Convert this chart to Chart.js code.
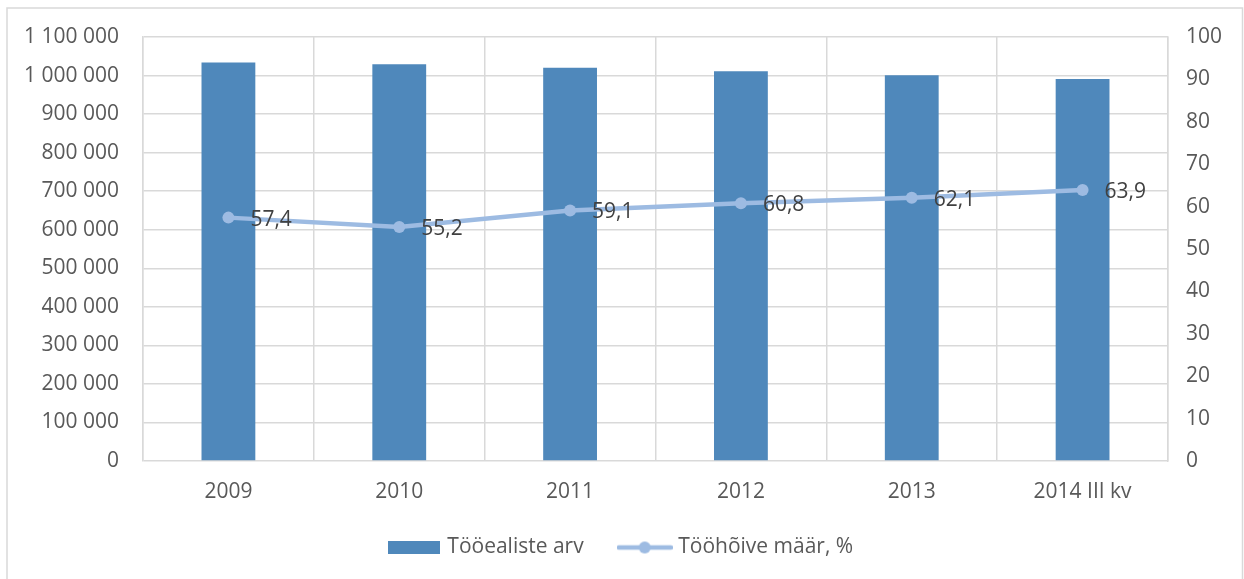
<!DOCTYPE html>
<html>
<head>
<meta charset="utf-8">
<script src="https://cdn.jsdelivr.net/npm/chart.js@4/dist/chart.umd.min.js"></script>
<style>
html,body{margin:0;padding:0;background:#fff;}
#wrap{position:relative;width:1244px;height:579px;}
canvas{display:block;}
</style>
</head>
<body>
<div id="wrap"><canvas id="c" width="1244" height="579"></canvas></div>
<script>
const categories = ["2009", "2010", "2011", "2012", "2013", "2014 III kv"];
const workingAge = [1034000, 1029000, 1020000, 1011000, 1000500, 991000];
const employmentRate = [57.4, 55.2, 59.1, 60.8, 62.1, 63.9];
const seriesNames = ["Tööealiste arv", "Tööhõive määr, %"];
const leftTicksMax = 1100000;
const rightTicksMax = 100;

const BAR_COLOR = "#4f88bb";
const LINE_COLOR = "#9dbbe2";
const FONT = "'Open Sans', sans-serif";
const FS = 21;

function fmtThousands(v){
  return String(v).replace(/\B(?=(\d{3})+(?!\d))/g, " ");
}

// legend symbols
const barSym = document.createElement("canvas");
barSym.width = 52; barSym.height = 13;
(function(){const g=barSym.getContext("2d");g.fillStyle=BAR_COLOR;g.fillRect(0,0,52,13);})();
const lineSym = document.createElement("canvas");
lineSym.width = 56; lineSym.height = 14;
(function(){const g=lineSym.getContext("2d");g.strokeStyle=LINE_COLOR;g.lineWidth=4.5;g.lineCap="round";
  g.beginPath();g.moveTo(2,7);g.lineTo(54,7);g.stroke();
  g.fillStyle=LINE_COLOR;g.beginPath();g.arc(28,7,6,0,Math.PI*2);g.fill();})();

const frame = {
  id: "frame",
  beforeDraw(chart){
    const ctx = chart.ctx;
    ctx.save();
    ctx.fillStyle = "#fff";
    ctx.fillRect(0,0,chart.width,chart.height);
    ctx.strokeStyle = "#d9d9d9";
    ctx.lineWidth = 1.5;
    ctx.beginPath();
    ctx.moveTo(7, 590); ctx.lineTo(7, 8); ctx.lineTo(1242.5, 8); ctx.lineTo(1242.5, 590);
    ctx.stroke();
    ctx.restore();
  }
};

const pointLabels = {
  id: "pointLabels",
  afterDatasetsDraw(chart){
    const ctx = chart.ctx;
    const meta = chart.getDatasetMeta(1);
    ctx.save();
    ctx.font = FS + "px " + FONT;
    ctx.fillStyle = "#404040";
    ctx.textAlign = "left";
    ctx.textBaseline = "middle";
    meta.data.forEach((pt, i) => {
      ctx.fillText(String(employmentRate[i]).replace(".", ","), pt.x + 22, pt.y + 2);
    });
    ctx.restore();
  }
};

new Chart(document.getElementById("c"), {
  type: "bar",
  data: {
    labels: categories,
    datasets: [
      {
        type: "bar",
        label: seriesNames[0],
        data: workingAge,
        backgroundColor: BAR_COLOR,
        borderWidth: 0,
        barPercentage: 0.315,
        categoryPercentage: 1,
        yAxisID: "y",
        order: 2
      },
      {
        type: "line",
        label: seriesNames[1],
        data: employmentRate,
        borderColor: LINE_COLOR,
        backgroundColor: LINE_COLOR,
        borderWidth: 4.5,
        pointRadius: 6,
        pointBackgroundColor: LINE_COLOR,
        pointBorderWidth: 0,
        tension: 0,
        yAxisID: "y1",
        order: 1
      }
    ]
  },
  options: {
    responsive: false,
    devicePixelRatio: 1,
    animation: false,
    layout: { padding: { left: 0, right: 0, top: 37, bottom: 11 } },
    plugins: {
      tooltip: { enabled: false },
      legend: {
        position: "bottom",
        labels: {
          font: { family: FONT, size: FS },
          color: "#595959",
          usePointStyle: true,
          pointStyleWidth: 46,
          boxHeight: 13,
          padding: 38,
          generateLabels(chart){
            return [
              { text: seriesNames[0], pointStyle: barSym, fillStyle: BAR_COLOR, strokeStyle: BAR_COLOR, lineWidth: 0, datasetIndex: 0, fontColor: "#595959" },
              { text: seriesNames[1], pointStyle: lineSym, fillStyle: LINE_COLOR, strokeStyle: LINE_COLOR, lineWidth: 0, datasetIndex: 1, fontColor: "#595959" }
            ];
          }
        }
      }
    },
    scales: {
      x: {
        grid: { color: "#d9d9d9", lineWidth: 1.5, offset: true, drawTicks: false },
        border: { display: false },
        ticks: { color: "#595959", font: { family: FONT, size: FS }, padding: 18, maxRotation: 0 },
        afterFit(s){ s.height = 38; }
      },
      y: {
        position: "left",
        min: 0, max: leftTicksMax,
        grid: { color: "#d9d9d9", lineWidth: 1.5, drawTicks: false },
        border: { display: true, color: "#d9d9d9", width: 1.5 },
        ticks: { stepSize: 100000, color: "#595959", font: { family: FONT, size: FS }, padding: 24,
          callback: v => fmtThousands(v) },
        afterFit(s){ s.width = 143; }
      },
      y1: {
        position: "right",
        min: 0, max: rightTicksMax,
        grid: { drawOnChartArea: false, drawTicks: false },
        border: { display: true, color: "#d9d9d9", width: 1.5 },
        ticks: { stepSize: 10, color: "#595959", font: { family: FONT, size: FS }, padding: 18 },
        afterFit(s){ s.width = 1244 - 1168; }
      }
    }
  },
  plugins: [frame, pointLabels]
});
</script>
</body>
</html>
